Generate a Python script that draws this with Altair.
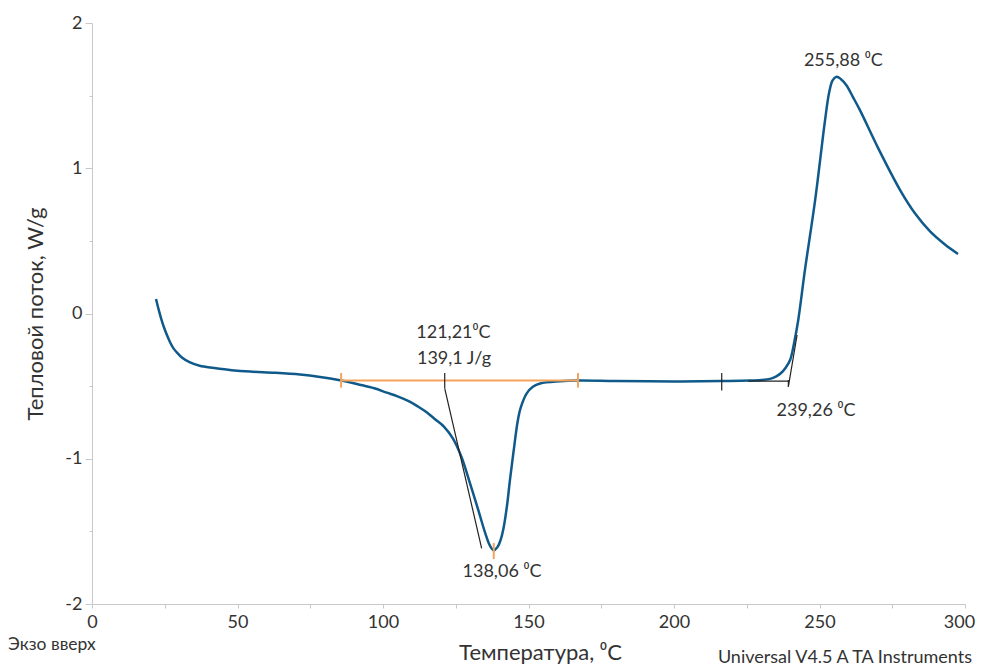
import altair as alt
import pandas as pd

# ---- DSC curve (temperature °C, heat flow W/g) ----
temp = [22.0, 23.0, 24.0, 25.0, 26.0, 27.0, 28.0, 29.5, 31.0, 33.5, 37.0, 42.0,
        48.0, 54.3, 63.0, 71.5, 78.4, 85.2, 92.0, 97.0, 101.3, 105.0, 109.0,
        112.0, 115.0, 118.0, 121.0, 124.0, 127.0, 129.9, 132.7, 135.1, 136.8,
        138.06, 139.3, 140.4, 141.4, 142.7, 143.6, 144.8, 146.3, 147.3, 149.4,
        151.5, 154.0, 160.8, 167.0, 180.0, 200.0, 216.4, 226.0, 230.0, 233.0,
        235.0, 236.8, 238.3, 239.9, 241.3, 242.7, 245.0, 248.5, 251.9, 253.3,
        254.5, 255.88, 257.3, 259.3, 261.5, 263.9, 270.2, 277.7, 282.8, 288.0,
        293.1, 297.6]
flow = [0.10, 0.02, -0.05, -0.11, -0.16, -0.205, -0.24, -0.275, -0.305, -0.335,
        -0.36, -0.375, -0.39, -0.40, -0.408, -0.42, -0.437, -0.46, -0.49, -0.515,
        -0.545, -0.57, -0.605, -0.64, -0.68, -0.73, -0.78, -0.86, -0.99,
        -1.17, -1.35, -1.51, -1.60, -1.63, -1.61, -1.56, -1.48, -1.31, -1.15,
        -0.96, -0.74, -0.65, -0.55, -0.505, -0.482, -0.467, -0.462, -0.465,
        -0.468, -0.465, -0.462, -0.458, -0.45, -0.435, -0.41, -0.375, -0.32,
        -0.2, -0.045, 0.30, 0.78, 1.33, 1.52, 1.605, 1.63, 1.615, 1.57, 1.49,
        1.40, 1.137, 0.85, 0.69, 0.565, 0.475, 0.41]

# ---- analysis marks (segments: x, y, x2, y2) ----
orange_x = [85.6, 85.6, 167.0, 138.06]
orange_y = [-0.461, -0.41, -0.41, -1.58]
orange_x2 = [167.0, 85.6, 167.0, 138.06]
orange_y2 = [-0.461, -0.51, -0.51, -1.69]

black_x = [121.21, 121.21, 216.4, 225.5, 239.3, 239.3]
black_y = [-0.41, -0.515, -0.41, -0.465, -0.458, -0.504]
black_x2 = [121.21, 133.9, 216.4, 239.3, 239.3, 242.3]
black_y2 = [-0.515, -1.617, -0.53, -0.465, -0.504, -0.148]

# ---- annotation texts ----
ann_text = ["121,21\u2070C", "139,1 J/g", "138,06 \u2070C", "239,26 \u2070C", "255,88 \u2070C"]
ann_x = [124.2, 124.4, 140.9, 248.8, 258.2]
ann_y = [-0.134, -0.313, -1.78, -0.67, 1.738]

x_ticks = [i * 12.5 for i in range(25)]
y_ticks = [-2 + i * 0.25 for i in range(17)]

FONT = "Lato"
AXIS_COLOR = "#c8c8c8"
TEXT_COLOR = "#333333"

curve_df = pd.DataFrame({"T": temp, "Y": flow})
orange_df = pd.DataFrame({"x": orange_x, "y": orange_y, "x2": orange_x2, "y2": orange_y2})
black_df = pd.DataFrame({"x": black_x, "y": black_y, "x2": black_x2, "y2": black_y2})
ann_df = pd.DataFrame({"x": ann_x, "y": ann_y, "t": ann_text})

xscale = alt.Scale(domain=[0, 300], nice=False, zero=False)
yscale = alt.Scale(domain=[-2, 2], nice=False, zero=False)

x_axis = alt.Axis(
    values=x_ticks,
    labelExpr="datum.value % 50 === 0 ? '' + datum.value : ''",
    title="Температура, \u2070C",
    grid=False, domainColor=AXIS_COLOR, tickColor=AXIS_COLOR,
    tickSize=4, labelPadding=5, labelFontSize=18, labelColor=TEXT_COLOR,
    labelOffset={"condition": {"test": "datum.value === 300", "value": -6}, "value": 0},
    labelFont=FONT, labelFlush=False, labelOverlap=False,
    titleFont=FONT, titleFontSize=22, titleFontWeight="normal", titleColor=TEXT_COLOR,
    titleX=448, titleY=48, titleBaseline="middle", titleAlign="center",
)
y_axis = alt.Axis(
    values=y_ticks,
    labelExpr="datum.value % 1 === 0 ? '' + datum.value : ''",
    title="Тепловой поток, W/g",
    grid=False, domainColor=AXIS_COLOR, tickColor=AXIS_COLOR,
    tickSize={"condition": {"test": "datum.value % 1 === 0", "value": 7}, "value": 3},
    labelPadding=3, labelFontSize=18, labelColor=TEXT_COLOR,
    labelFont=FONT, labelFlush=False, labelOverlap=False, labelBaseline="middle",
    titleFont=FONT, titleFontSize=22, titleFontWeight="normal", titleColor=TEXT_COLOR,
    titleX=-57, titleY=290.5, titleAngle=270, titleBaseline="middle", titleAlign="center",
)

curve = alt.Chart(curve_df).mark_line(
    color="#0f5a8a", strokeWidth=2.5, interpolate="catmull-rom"
).encode(
    x=alt.X("T:Q", scale=xscale, axis=x_axis),
    y=alt.Y("Y:Q", scale=yscale, axis=y_axis),
)

orange = alt.Chart(orange_df).mark_rule(color="#f5a35a", strokeWidth=2).encode(
    x=alt.X("x:Q", scale=xscale), y=alt.Y("y:Q", scale=yscale),
    x2="x2:Q", y2="y2:Q",
)

black = alt.Chart(black_df).mark_rule(color="#222222", strokeWidth=1.2).encode(
    x=alt.X("x:Q", scale=xscale), y=alt.Y("y:Q", scale=yscale),
    x2="x2:Q", y2="y2:Q",
)

ann = alt.Chart(ann_df).mark_text(
    font=FONT, fontSize=18, color=TEXT_COLOR, align="center", baseline="middle"
).encode(
    x=alt.X("x:Q", scale=xscale), y=alt.Y("y:Q", scale=yscale), text="t:N"
)

exo = alt.Chart(pd.DataFrame({"t": ["Экзо вверх"]})).mark_text(
    font=FONT, fontSize=17.5, color=TEXT_COLOR, align="left", baseline="middle"
).encode(x=alt.value(-84), y=alt.value(622), text="t:N")

brand = alt.Chart(pd.DataFrame({"t": ["Universal V4.5 A TA Instruments"]})).mark_text(
    font=FONT, fontSize=18, color=TEXT_COLOR, align="right", baseline="middle"
).encode(x=alt.value(880), y=alt.value(635), text="t:N")

chart = alt.layer(curve, orange, black, ann, exo, brand).properties(
    width=873, height=581,
    padding={"left": 84, "top": 15, "right": 11, "bottom": 62},
    autosize=alt.AutoSizeParams(type="none"),
    background="white",
).configure_view(stroke=None)

chart.save("out.html", embed_options={"renderer": "svg", "actions": False})
